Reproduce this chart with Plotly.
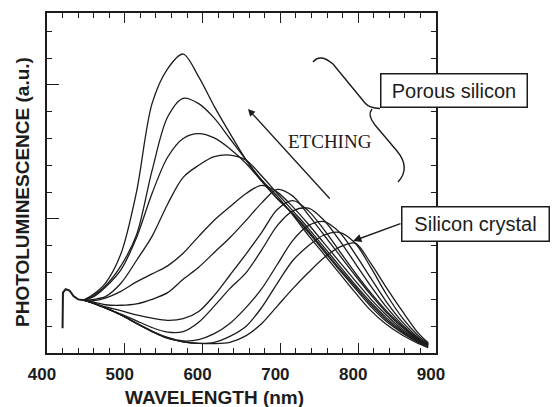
import plotly.graph_objects as go

# ---------------- data ----------------
# common start of every spectrum (laser line / spike near 420 nm)
spike_nm = [420, 420.5, 424, 429, 434, 440, 447]
spike_pl = [0.92, 2.25, 2.38, 2.33, 2.12, 2.0, 1.97]

wavelength = [447, 460, 475, 495, 515, 535, 555, 575, 595, 615, 635, 656,
              676, 696, 716, 736, 756, 776, 796, 816, 836, 857, 877, 890]

# most etched (porous silicon) ... least etched (silicon crystal)
pl_1 = [1.97, 2.2, 2.6, 3.7, 6.0, 9.3, 10.6, 11.15, 10.3, 9.2, 8.2, 7.2,
        6.45, 5.85, 5.14, 4.39, 3.68, 2.97, 2.26, 1.59, 1.07, 0.66, 0.36, 0.2]
pl_2 = [1.97, 2.15, 2.5, 3.25, 4.4, 6.8, 8.8, 9.5, 9.3, 8.76, 8.0, 7.19,
        6.41, 5.77, 5.18, 4.5, 3.79, 3.09, 2.41, 1.74, 1.18, 0.74, 0.4, 0.24]
pl_3 = [1.97, 2.1, 2.45, 3.1, 4.3, 5.95, 7.3, 8.0, 8.18, 8.02, 7.62, 7.07,
        6.4, 5.75, 5.2, 4.55, 3.85, 3.15, 2.48, 1.82, 1.25, 0.78, 0.42, 0.26]
pl_4 = [1.97, 2.0, 2.1, 2.6, 3.45, 4.35, 5.55, 6.55, 7.0, 7.32, 7.38, 7.19,
        6.6, 5.95, 5.3, 4.65, 3.95, 3.25, 2.55, 1.9, 1.32, 0.82, 0.45, 0.28]
pl_5 = [1.97, 1.95, 2.05, 2.3, 2.65, 2.95, 3.25, 3.72, 4.35, 4.95, 5.45, 5.95,
        6.25, 6.0, 5.45, 4.8, 4.1, 3.4, 2.7, 2.02, 1.42, 0.88, 0.48, 0.3]
pl_6 = [1.97, 1.9, 1.8, 1.78, 1.83, 2.0, 2.25, 2.75, 3.2, 3.75, 4.3, 4.95,
        5.6, 6.1, 5.85, 5.15, 4.4, 3.65, 2.9, 2.18, 1.52, 0.95, 0.5, 0.3]
pl_7 = [1.97, 1.85, 1.72, 1.58, 1.42, 1.3, 1.22, 1.28, 1.55, 2.15, 2.9, 3.7,
        4.5, 5.35, 5.68, 5.3, 4.6, 3.8, 3.0, 2.25, 1.58, 1.0, 0.52, 0.32]
pl_8 = [1.97, 1.85, 1.68, 1.45, 1.2, 0.95, 0.78, 0.8, 1.15, 1.75, 2.4, 3.0,
        3.85, 4.75, 5.3, 5.4, 4.95, 4.2, 3.35, 2.5, 1.72, 1.05, 0.55, 0.32]
pl_9 = [1.97, 1.85, 1.68, 1.42, 1.12, 0.82, 0.58, 0.45, 0.5, 0.72, 1.1, 1.7,
        2.4, 3.3, 4.2, 4.75, 4.9, 4.5, 3.7, 2.8, 1.92, 1.15, 0.58, 0.33]
pl_10 = [1.97, 1.85, 1.68, 1.42, 1.1, 0.8, 0.55, 0.42, 0.36, 0.4, 0.62, 1.0,
         1.7, 2.6, 3.45, 4.0, 4.4, 4.5, 4.1, 3.2, 2.2, 1.3, 0.65, 0.35]
pl_11 = [1.97, 1.85, 1.68, 1.42, 1.1, 0.8, 0.55, 0.42, 0.36, 0.35, 0.4, 0.65,
         1.1, 1.75, 2.4, 3.0, 3.55, 3.95, 4.1, 3.35, 2.45, 1.55, 0.75, 0.38]

x_ticks = [400, 500, 600, 700, 800, 900]
x_tick_text = ["400", "500", "600", "700", "800", "900"]

# ---------------- figure ----------------
W, H = 552, 407
FL, FR, FT, FB = 47, 436, 13, 353   # frame edges in pixels


def pxx(x):
    return (x - FL) / (FR - FL)


def pxy(y):
    return (FB - y) / (FB - FT)


INK = "#1c1c1c"
SANS = "Liberation Sans, Arial, sans-serif"
SERIF = "Liberation Serif, Times New Roman, serif"

fig = go.Figure()

fig.add_trace(go.Scatter(x=spike_nm, y=spike_pl, mode="lines",
                         line=dict(color=INK, width=2), showlegend=False,
                         hoverinfo="skip"))

for series in [pl_1, pl_2, pl_3, pl_4, pl_5, pl_6, pl_7, pl_8, pl_9, pl_10, pl_11]:
    fig.add_trace(go.Scatter(x=wavelength, y=series, mode="lines",
                             line=dict(color=INK, width=1.3, shape="spline",
                                       smoothing=0.9),
                             showlegend=False))

fig.update_layout(
    width=W, height=H,
    margin=dict(l=FL, r=W - FR, t=FT, b=H - FB),
    paper_bgcolor="white", plot_bgcolor="white",
    showlegend=False,
    xaxis=dict(range=[400, 900], tickmode="array", tickvals=x_ticks,
               ticktext=x_tick_text, ticks="inside", ticklen=10, tickwidth=1.3,
               tickcolor=INK, showline=True, linecolor=INK, linewidth=1.6,
               mirror="allticks", showgrid=False, zeroline=False,
               tickfont=dict(family=SANS, size=17, color=INK, weight="bold"),
               ticklabelshift=-5, ticklabelstandoff=5,
               minor=dict(dtick=20, tick0=400, ticks="inside", ticklen=5,
                          tickwidth=1, tickcolor=INK, showgrid=False)),
    yaxis=dict(range=[0, 12.68], tick0=0, dtick=5, ticks="inside", ticklen=12,
               tickwidth=1.3, tickcolor=INK, showticklabels=False,
               showline=True, linecolor=INK, linewidth=1.6, mirror="allticks",
               showgrid=False, zeroline=False,
               minor=dict(dtick=1, tick0=0, ticks="inside", ticklen=5,
                          tickwidth=1, tickcolor=INK, showgrid=False)),
)


def label(text, x, y, **kw):
    d = dict(text=text, xref="paper", yref="paper", x=pxx(x), y=pxy(y),
             xanchor="center", yanchor="middle", showarrow=False)
    d.update(kw)
    return d


ann = []
# axis titles
ann.append(label("<b>WAVELENGTH (nm)</b>", 214, 397,
                 font=dict(family=SANS, size=19, color=INK)))
ann.append(label("<b>PHOTOLUMINESCENCE (a.u.)</b>", 22, 192, textangle=-90,
                 font=dict(family=SANS, size=19, color=INK)))
# ETCHING label and arrow
ann.append(label("ETCHING", 330, 141,
                 font=dict(family=SERIF, size=19, color=INK)))
ann.append(label("", 248, 109, showarrow=True, ax=331 - 248, ay=200 - 109,
                 arrowhead=2, arrowsize=1.1, arrowwidth=1.3, arrowcolor=INK,
                 standoff=0))
# boxes
ann.append(label("Porous silicon", 454, 90.5, width=145, height=32,
                 bordercolor=INK, borderwidth=1.5, borderpad=0, bgcolor="white",
                 font=dict(family=SANS, size=20, color=INK)))
ann.append(label("Silicon crystal", 476, 224, width=146, height=33,
                 bordercolor=INK, borderwidth=1.5, borderpad=0, bgcolor="white",
                 font=dict(family=SANS, size=20, color=INK)))
ann.append(label("", 353, 241, showarrow=True, ax=402 - 353, ay=223 - 241,
                 arrowhead=2, arrowsize=1.2, arrowwidth=1.4, arrowcolor=INK,
                 standoff=0))
fig.update_layout(annotations=ann)


# curly brace joining the curves to the "Porous silicon" box
def P(x, y):
    return f"{pxx(x):.5f},{pxy(y):.5f}"


brace = (f"M {P(313,62)} Q {P(320,53)} {P(333,64)} L {P(365,103)} "
         f"Q {P(369,108)} {P(380,108.5)} "
         f"M {P(372,109)} Q {P(367,115)} {P(375,125)} L {P(397,151)} "
         f"Q {P(411,168)} {P(398,182)}")
fig.add_shape(type="path", xref="paper", yref="paper", path=brace,
              line=dict(color=INK, width=1.4))

fig.write_html("out.html")
